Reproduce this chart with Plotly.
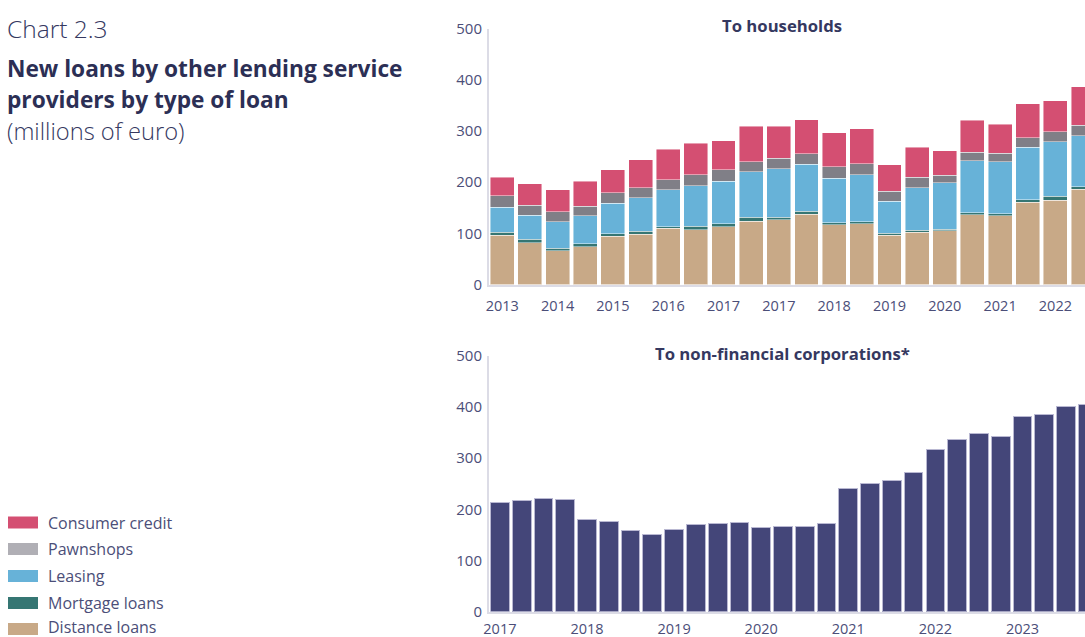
import plotly.graph_objects as go

# Half-yearly new loans to households (millions of euro)
hh_distance = [96, 82, 66, 74, 94, 98, 110, 107, 113, 124, 126, 137, 117, 119, 96, 102, 105, 136, 134, 161, 165, 186]
hh_mortgage = [6, 6, 5, 6, 5, 6, 3, 7, 6, 7, 5, 6, 4, 4, 4, 4, 3, 4, 4, 5, 7, 5]
hh_leasing = [49, 47, 52, 54, 60, 65, 72, 79, 83, 89, 95, 92, 87, 91, 63, 83, 91, 102, 102, 102, 107, 100]
hh_pawnshops = [22, 20, 19, 19, 20, 20, 20, 21, 22, 20, 21, 20, 22, 22, 19, 20, 14, 16, 16, 19, 19, 20]
hh_consumer = [36, 42, 43, 49, 45, 55, 59, 62, 57, 69, 62, 67, 66, 68, 52, 59, 48, 63, 57, 66, 61, 75]
hh_tick_labels = ["2013", "2014", "2015", "2016", "2017", "2017", "2018", "2019", "2020", "2021", "2022"]

# Quarterly new loans to non-financial corporations (millions of euro)
nfc_values = [214, 218, 221, 219, 181, 176, 159, 150, 160, 171, 173, 175, 165, 166, 167, 173,
              240, 250, 257, 271, 317, 337, 348, 343, 382, 385, 401, 404]
nfc_tick_labels = ["2017", "2018", "2019", "2020", "2021", "2022", "2023"]

series_names = ["Consumer credit", "Pawnshops", "Leasing", "Mortgage loans", "Distance loans"]
series_colors = ["#d44f72", "#807f87", "#67b2d8", "#357673", "#c8a987"]
legend_colors = ["#d44f72", "#b0afb5", "#67b2d8", "#357673", "#c8a987"]
series_values = [hh_consumer, hh_pawnshops, hh_leasing, hh_mortgage, hh_distance]

NAVY = "#35385f"
TICK = "#4b4e78"
AXIS = "#dcdce6"
FONT = "Open Sans"

W, H = 1085, 637
fig = go.Figure()

hh_x = list(range(len(hh_distance)))
# stack from the bottom up: distance, mortgage, leasing, pawnshops, consumer credit
for name, color, vals in reversed(list(zip(series_names, series_colors, series_values))):
    fig.add_trace(go.Bar(
        x=hh_x, y=vals, name=name,
        marker=dict(color=color, line=dict(color="rgba(255,255,255,0.75)", width=0.6)),
        width=0.865, xaxis="x", yaxis="y", showlegend=False,
    ))

nfc_x = list(range(len(nfc_values)))
fig.add_trace(go.Bar(
    x=nfc_x, y=nfc_values, name="Non-financial corporations",
    marker=dict(color="#444679", line=dict(color="#b9b8d2", width=1)),
    width=0.86, xaxis="x2", yaxis="y2", showlegend=False,
))

def px_x(p):
    return p / W

def px_y(p):
    return 1 - p / H

left_dom = px_x(489)
common_y = dict(range=[0, 500], tickvals=[0, 100, 200, 300, 400, 500], showgrid=False,
                zeroline=False, showline=True, linecolor=AXIS, linewidth=2, automargin=False,
                ticks="outside", ticklen=2, tickcolor="rgba(0,0,0,0)",
                tickfont=dict(family=FONT, size=15, color=TICK), fixedrange=True)
common_x = dict(showgrid=False, zeroline=False, showline=True, linecolor=AXIS, linewidth=2,
                ticks="outside", tickcolor="rgba(0,0,0,0)", automargin=False,
                tickfont=dict(family=FONT, size=14.5, color=TICK))

fig.update_layout(
    template="none",
    width=W, height=H, margin=dict(l=0, r=0, t=0, b=0, pad=0), autosize=False,
    paper_bgcolor="white", plot_bgcolor="white", barmode="stack",
    xaxis=dict(domain=[left_dom, 1], range=[-0.48, 21.07], anchor="y",
               tickvals=hh_x[::2], ticktext=hh_tick_labels, ticklen=7, **common_x),
    yaxis=dict(domain=[px_y(284.5), px_y(28.5)], anchor="x", **common_y),
    xaxis2=dict(domain=[left_dom, 1], range=[-0.5, 26.87], anchor="y2",
                tickvals=nfc_x[::4], ticktext=nfc_tick_labels, ticklen=3, **common_x),
    yaxis2=dict(domain=[px_y(611.7), px_y(355.7)], anchor="x2", **common_y),
)

ann = []
# panel titles
ann.append(dict(x=px_x(782), y=px_y(25), xref="paper", yref="paper", text="<b>To households</b>",
                showarrow=False, xanchor="center", yanchor="middle",
                font=dict(family=FONT, size=16.7, color=NAVY)))
ann.append(dict(x=px_x(782), y=px_y(353), xref="paper", yref="paper",
                text="<b>To non-financial corporations*</b>",
                showarrow=False, xanchor="center", yanchor="middle",
                font=dict(family=FONT, size=16.7, color=NAVY)))
# chart heading
ann.append(dict(x=px_x(5), y=px_y(29), xref="paper", yref="paper", text="Chart 2.3",
                showarrow=False, xanchor="left", yanchor="middle",
                font=dict(family=FONT, size=24.5, color=NAVY, weight=300)))
ann.append(dict(x=px_x(5), y=px_y(68), xref="paper", yref="paper",
                text="<b>New loans by other lending service</b>",
                showarrow=False, xanchor="left", yanchor="middle",
                font=dict(family=FONT, size=22.7, color="#2c2f55")))
ann.append(dict(x=px_x(5), y=px_y(99), xref="paper", yref="paper",
                text="<b>providers by type of loan</b>",
                showarrow=False, xanchor="left", yanchor="middle",
                font=dict(family=FONT, size=22.7, color="#2c2f55")))
ann.append(dict(x=px_x(5), y=px_y(131), xref="paper", yref="paper", text="(millions of euro)",
                showarrow=False, xanchor="left", yanchor="middle",
                font=dict(family=FONT, size=23.7, color=NAVY, weight=300)))

# legend drawn as swatches with labels
shapes = []
swatch_centers = [522.5, 549, 576, 603, 629]
label_centers = [522.5, 549, 576, 603, 626.5]
for name, color, cy, ty in zip(series_names, legend_colors, swatch_centers, label_centers):
    shapes.append(dict(type="rect", xref="paper", yref="paper",
                       x0=px_x(8), x1=px_x(38), y0=px_y(cy + 6), y1=px_y(cy - 6),
                       fillcolor=color, line=dict(width=0)))
    ann.append(dict(x=px_x(46), y=px_y(ty), xref="paper", yref="paper", text=name,
                    showarrow=False, xanchor="left", yanchor="middle",
                    font=dict(family=FONT, size=16, color=TICK)))

fig.update_layout(annotations=ann, shapes=shapes)
fig.write_html("out.html")
